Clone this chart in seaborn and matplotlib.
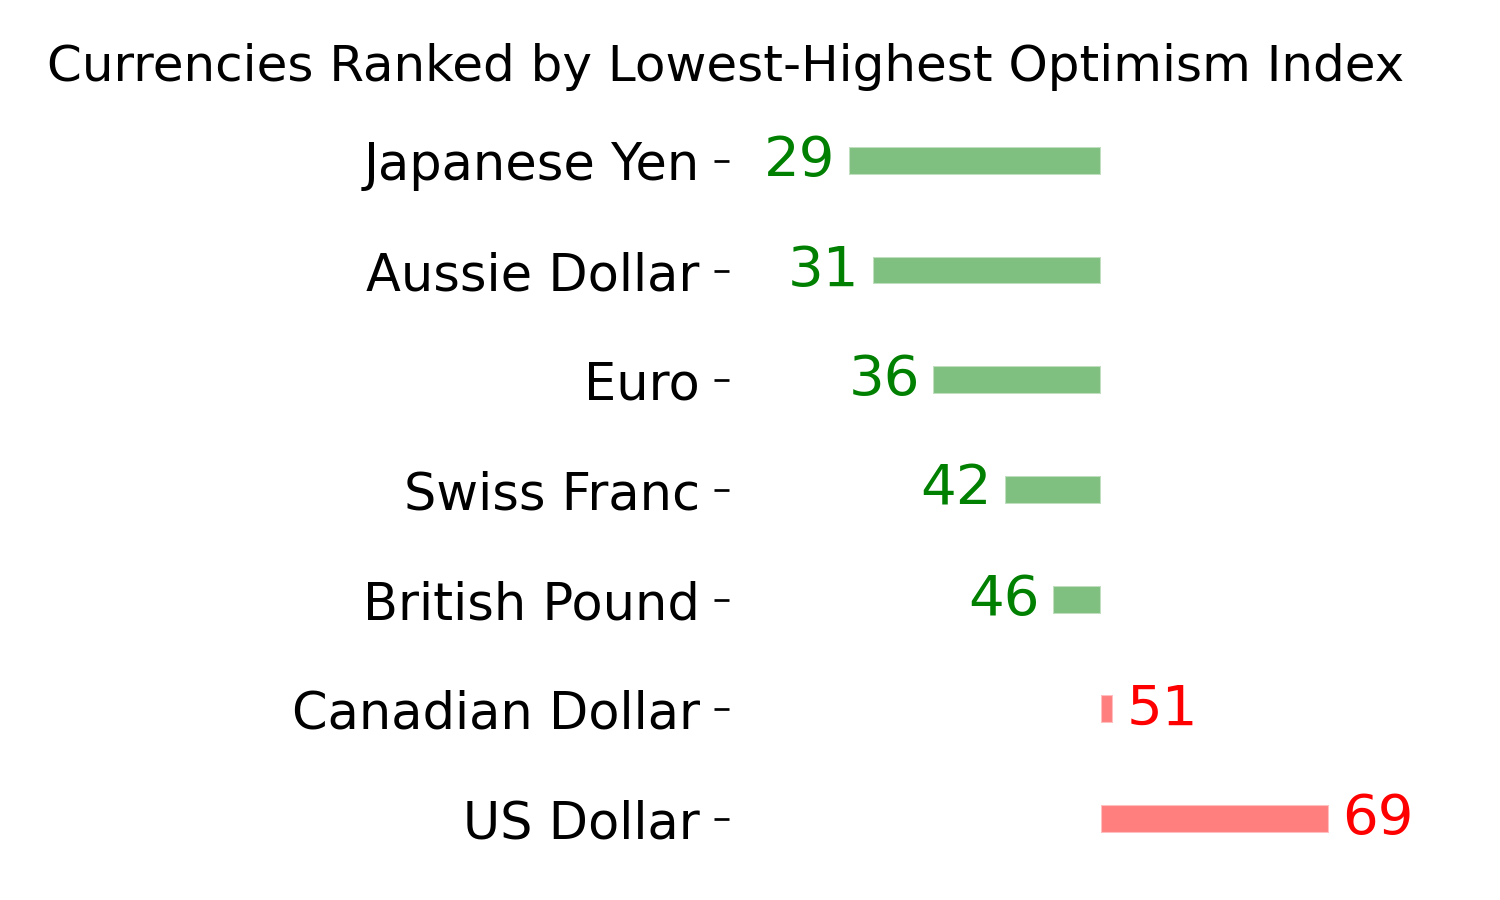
import matplotlib
matplotlib.use("Agg")
import matplotlib.pyplot as plt
import seaborn as sns
import pandas as pd

# data
currencies = ["Japanese Yen", "Aussie Dollar", "Euro", "Swiss Franc",
              "British Pound", "Canadian Dollar", "US Dollar"]
optimism = [29, 31, 36, 42, 46, 51, 69]
midpoint = 50

df = pd.DataFrame({"currency": currencies, "index": optimism})
df["diff"] = df["index"] - midpoint
df["side"] = ["below" if v < midpoint else "above" for v in df["index"]]

sns.set_style("white")
plt.rcParams["font.family"] = ["DejaVu Sans"]
plt.rcParams["text.color"] = "black"
plt.rcParams["ytick.color"] = "black"
plt.rcParams["ytick.labelcolor"] = "black"

fig = plt.figure(figsize=(10, 6), dpi=150)
ax = fig.add_axes([0.486, 0.0167, 0.488, 0.8778])

sns.barplot(data=df, x="diff", y="currency", hue="side",
            palette={"below": "green", "above": "red"}, alpha=0.5,
            saturation=1, width=0.255, dodge=False, legend=False,
            orient="h", ax=ax)

# value labels at the end of each bar
for i, row in df.iterrows():
    if row["diff"] < 0:
        ax.text(row["diff"] - 1.1, i, str(row["index"]), color="green",
                ha="right", va="center", fontsize=27)
    else:
        ax.text(row["diff"] + 1.1, i, str(row["index"]), color="red",
                ha="left", va="center", fontsize=27)

ax.set_xlim(-31, 30)
ax.set_ylim(6.6, -0.6)
ax.set_xticks([])
ax.set_xlabel("")
ax.set_ylabel("")
ax.tick_params(axis="y", labelsize=24.5, length=7, width=1.3, pad=7,
               left=True, colors="black")
sns.despine(ax=ax, left=True, bottom=True)

fig.text(726 / 1500, 1 - 67 / 900,
         "Currencies Ranked by Lowest-Highest Optimism Index",
         ha="center", va="center", fontsize=24, color="black")

fig.savefig("out.png", dpi=150)
